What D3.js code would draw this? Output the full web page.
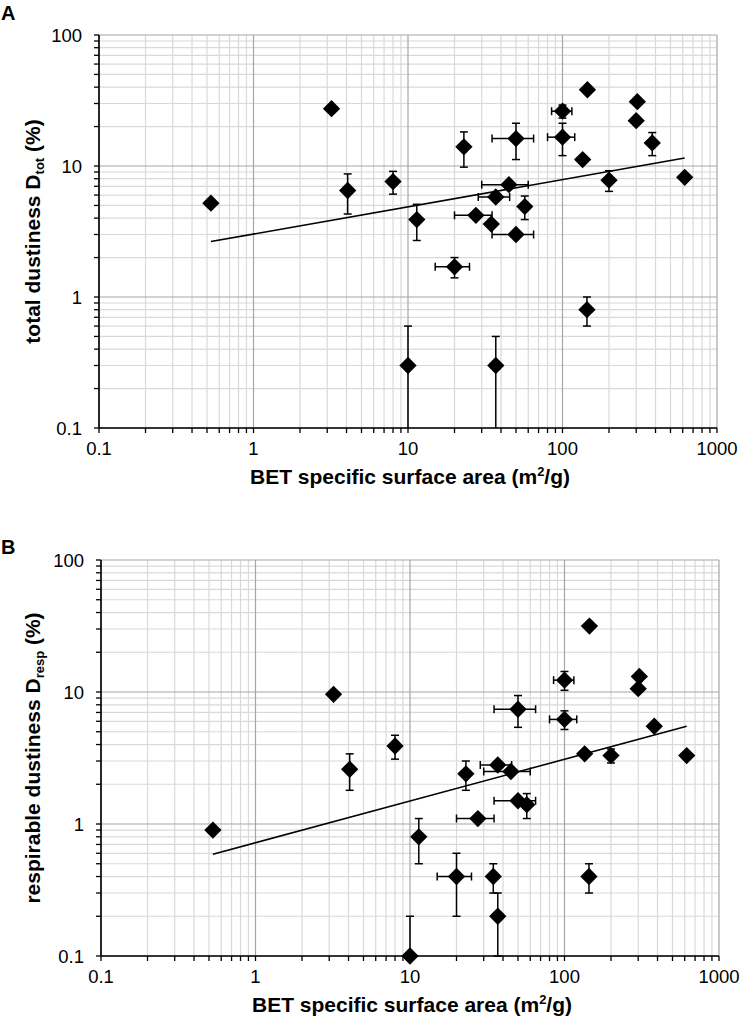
<!DOCTYPE html>
<html>
<head>
<meta charset="utf-8">
<script src="https://cdn.jsdelivr.net/npm/d3@7"></script>
<style>
  html, body { margin: 0; padding: 0; background: #fff; }
  svg { display: block; font-family: "Liberation Sans", Arial, sans-serif; }
</style>
</head>
<body>
<svg id="chart" width="741" height="1023"></svg>
<script>
// ---- Data ----
// BET specific surface area (m2/g) and its error (shared by both panels)
const bet    = [0.53, 3.2, 4.07, 8.0, 10, 11.4, 20, 23, 27.5, 34.6, 37, 37, 45, 50, 50, 57, 100, 100, 135, 144, 145, 200, 300, 305, 381, 618];
const betErr = [0, 0, 0, 0, 0, 0, 5, 0, 7.5, 0, 0, 8.5, 15, 15, 15, 0, 15, 20, 0, 0, 0, 0, 0, 0, 0, 0];
// Panel A: total dustiness (%)
const dTot    = [5.2, 27.4, 6.5, 7.6, 0.3, 3.9, 1.7, 14, 4.2, 3.6, 0.3, 5.8, 7.2, 16.2, 3.0, 4.9, 26.2, 16.6, 11.2, 0.8, 38.2, 7.8, 22.2, 31, 15, 8.2];
const dTotErr = [0, 0, 2.2, 1.5, 0.3, 1.2, 0.3, 4.2, 0, 0, 0.2, 0, 0, 5, 0, 1.0, 3, 4.6, 0, 0.2, 0, 1.4, 0, 0, 3, 0];
// Panel B: respirable dustiness (%)
const dResp    = [0.9, 9.6, 2.6, 3.9, 0.1, 0.8, 0.4, 2.4, 1.1, 0.4, 0.2, 2.8, 2.5, 7.4, 1.5, 1.4, 12.3, 6.2, 3.4, 0.4, 31.6, 3.3, 10.6, 13.1, 5.5, 3.3];
const dRespErr = [0, 0, 0.8, 0.8, 0.1, 0.3, 0.2, 0.6, 0, 0.1, 0.1, 0, 0, 2, 0, 0.3, 2, 1, 0, 0.1, 0, 0.4, 0, 0, 0, 0];
// Power-law trendlines (end points)
const trendX     = [0.53, 618];
const trendTot   = [2.65, 11.5];
const trendResp  = [0.59, 5.5];
// Axis ticks
const xTicks = [0.1, 1, 10, 100, 1000];
const yTicks = [0.1, 1, 10, 100];
const xTickLabels = ["0.1", "1", "10", "100", "1000"];
const yTickLabels = ["0.1", "1", "10", "100"];

const svg = d3.select("#chart");

function minorTicks(lo, hi) {
  const out = [];
  for (let e = Math.round(Math.log10(lo)); e < Math.round(Math.log10(hi)); e++) {
    for (let m = 2; m <= 9; m++) out.push(m * Math.pow(10, e));
  }
  return out;
}

function drawPanel(o) {
  const g = svg.append("g");
  const x = d3.scaleLog().domain([0.1, 1000]).range([o.left, o.right]);
  const y = d3.scaleLog().domain([0.1, 100]).range([o.bottom, o.top]);

  const xMinor = minorTicks(0.1, 1000), yMinor = minorTicks(0.1, 100);

  // minor grid
  g.append("g").selectAll("line").data(xMinor).join("line")
    .attr("x1", d => x(d)).attr("x2", d => x(d)).attr("y1", o.top).attr("y2", o.bottom)
    .attr("stroke", "#d9d9d9").attr("stroke-width", 1.2);
  g.append("g").selectAll("line").data(yMinor).join("line")
    .attr("y1", d => y(d)).attr("y2", d => y(d)).attr("x1", o.left).attr("x2", o.right)
    .attr("stroke", "#d9d9d9").attr("stroke-width", 1.2);
  // major grid
  g.append("g").selectAll("line").data(xTicks).join("line")
    .attr("x1", d => x(d)).attr("x2", d => x(d)).attr("y1", o.top).attr("y2", o.bottom)
    .attr("stroke", "#a6a6a6").attr("stroke-width", 1.2);
  g.append("g").selectAll("line").data(yTicks).join("line")
    .attr("y1", d => y(d)).attr("y2", d => y(d)).attr("x1", o.left).attr("x2", o.right)
    .attr("stroke", "#a6a6a6").attr("stroke-width", 1.2);

  // axes lines and ticks
  const ax = g.append("g").attr("stroke", "#000");
  ax.append("line").attr("x1", o.left).attr("x2", o.right).attr("y1", o.bottom).attr("y2", o.bottom).attr("stroke-width", 1.6);
  ax.append("line").attr("x1", o.left).attr("x2", o.left).attr("y1", o.top).attr("y2", o.bottom).attr("stroke-width", 1.6);
  ax.selectAll(".xt").data(xTicks.concat(xMinor)).join("line")
    .attr("x1", d => x(d)).attr("x2", d => x(d)).attr("y1", o.bottom).attr("y2", o.bottom + 5).attr("stroke-width", 1.3);
  ax.selectAll(".yt").data(yTicks.concat(yMinor)).join("line")
    .attr("y1", d => y(d)).attr("y2", d => y(d)).attr("x1", o.left - 5).attr("x2", o.left).attr("stroke-width", 1.3);

  // tick labels
  g.append("g").selectAll("text").data(xTicks).join("text")
    .attr("x", d => x(d)).attr("y", o.bottom + 27).attr("text-anchor", "middle")
    .attr("font-size", 18.5).attr("fill", "#000").text((d, i) => xTickLabels[i]);
  g.append("g").selectAll("text").data(yTicks).join("text")
    .attr("x", o.left - 17).attr("y", d => y(d) + 6.5).attr("text-anchor", "end")
    .attr("font-size", 18.5).attr("fill", "#000").text((d, i) => yTickLabels[i]);

  // axis titles
  const xt = g.append("text").attr("x", (o.left + o.right) / 2 + 2).attr("y", o.bottom + 56)
    .attr("text-anchor", "middle").attr("font-size", 21).attr("font-weight", "bold");
  xt.append("tspan").text("BET specific surface area (m");
  xt.append("tspan").attr("font-size", 13).attr("dy", -8).text("2");
  xt.append("tspan").attr("dy", 8).text("/g)");

  const cy = (o.top + o.bottom) / 2;
  const yt = g.append("text").attr("transform", `translate(${o.titleX},${cy}) rotate(-90)`)
    .attr("text-anchor", "middle").attr("font-size", 21).attr("font-weight", "bold");
  yt.append("tspan").text(o.yTitle + " D");
  yt.append("tspan").attr("font-size", 13).attr("dy", 4).text(o.sub);
  yt.append("tspan").attr("dy", -4).text(" (%)");

  // panel letter
  g.append("text").attr("x", 1).attr("y", o.letterY).attr("font-size", 20).attr("font-weight", "bold").text(o.letter);

  // trendline
  g.append("line")
    .attr("x1", x(trendX[0])).attr("y1", y(o.trend[0]))
    .attr("x2", x(trendX[1])).attr("y2", y(o.trend[1]))
    .attr("stroke", "#000").attr("stroke-width", 1.6);

  const pts = bet.map((b, i) => ({ x: b, xe: betErr[i], y: o.vals[i], ye: o.errs[i] }));
  const eb = g.append("g").attr("stroke", "#000").attr("stroke-width", 1.5);
  const cap = 4;
  pts.forEach(p => {
    if (p.ye > 0) {
      const hi = p.y + p.ye, lo = p.y - p.ye;
      const yHi = y(hi), yLo = lo >= 0.1 ? y(lo) : o.bottom;
      eb.append("line").attr("x1", x(p.x)).attr("x2", x(p.x)).attr("y1", yHi).attr("y2", yLo);
      eb.append("line").attr("x1", x(p.x) - cap).attr("x2", x(p.x) + cap).attr("y1", yHi).attr("y2", yHi);
      if (lo >= 0.1) eb.append("line").attr("x1", x(p.x) - cap).attr("x2", x(p.x) + cap).attr("y1", yLo).attr("y2", yLo);
    }
    if (p.xe > 0) {
      const xl = x(p.x - p.xe), xr = x(p.x + p.xe);
      eb.append("line").attr("x1", xl).attr("x2", xr).attr("y1", y(p.y)).attr("y2", y(p.y));
      eb.append("line").attr("x1", xl).attr("x2", xl).attr("y1", y(p.y) - cap).attr("y2", y(p.y) + cap);
      eb.append("line").attr("x1", xr).attr("x2", xr).attr("y1", y(p.y) - cap).attr("y2", y(p.y) + cap);
    }
  });

  const sym = d3.symbol(d3.symbolSquare, 150);
  g.append("g").selectAll("path").data(pts).join("path")
    .attr("d", sym)
    .attr("transform", d => `translate(${x(d.x)},${y(d.y)}) rotate(45)`)
    .attr("fill", "#000");
}

drawPanel({ left: 99, right: 717, top: 35, bottom: 428, vals: dTot, errs: dTotErr, trend: trendTot,
  yTitle: "total dustiness", sub: "tot", titleX: 40, letter: "A", letterY: 20 });
drawPanel({ left: 101, right: 719, top: 560, bottom: 956, vals: dResp, errs: dRespErr, trend: trendResp,
  yTitle: "respirable dustiness", sub: "resp", titleX: 40, letter: "B", letterY: 554 });
</script>
</body>
</html>
